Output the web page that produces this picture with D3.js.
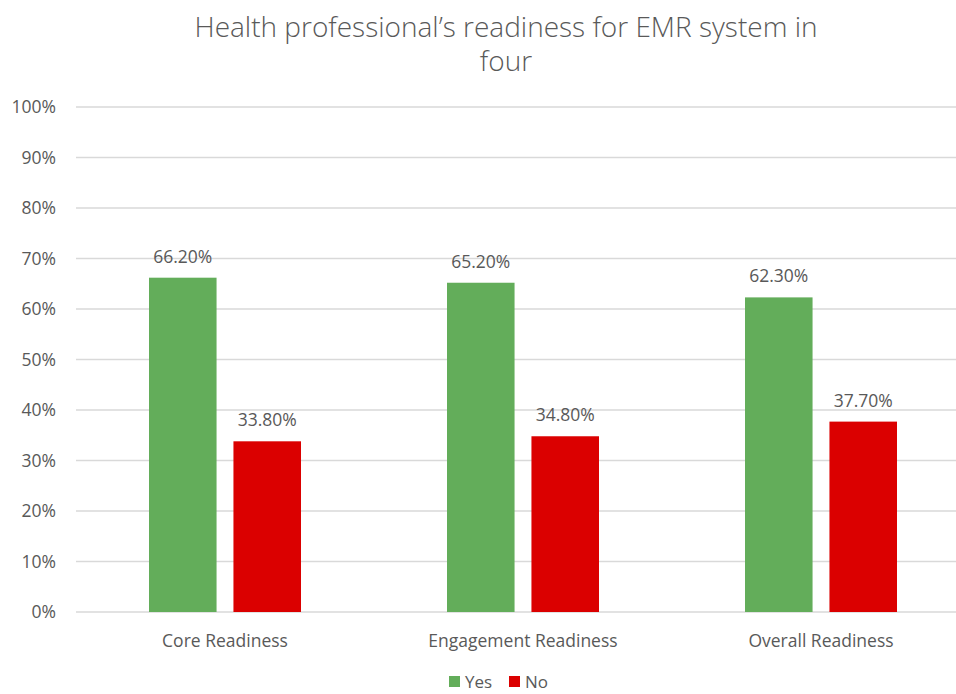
<!DOCTYPE html>
<html>
<head>
<meta charset="utf-8">
<script src="https://cdn.jsdelivr.net/npm/d3@7"></script>
<style>
  body { margin: 0; background: #fff; }
  text { font-family: "Open Sans", "Noto Sans", sans-serif; fill: #595959; }
</style>
</head>
<body>
<script>
var categories = ["Core Readiness", "Engagement Readiness", "Overall Readiness"]
var series = ["Yes", "No"]
var yesValues = [66.2, 65.2, 62.3]
var noValues = [33.8, 34.8, 37.7]
var yTicks = [0, 10, 20, 30, 40, 50, 60, 70, 80, 90, 100]
var colors = ["#63ad5a", "#db0000"]

var width = 956, height = 694

var svg = d3.select("body").append("svg")
    .attr("width", width)
    .attr("height", height)

var x = d3.scaleBand().domain(categories).range([76, 970]).padding(0)
var xs = d3.scaleBand().domain(series).range([73, 225]).paddingInner(0.2)
var y = d3.scaleLinear().domain([0, 100]).range([612, 107])

// gridlines
svg.selectAll("line.grid")
    .data(yTicks)
    .enter()
    .append("line")
    .attr("x1", 76)
    .attr("x2", 970)
    .attr("y1", function(d) {return y(d)})
    .attr("y2", function(d) {return y(d)})
    .style("stroke", "#d9d9d9")
    .style("stroke-width", 1.5)

svg.selectAll("text.ytick")
    .data(yTicks)
    .enter()
    .append("text")
    .attr("x", 56)
    .attr("y", function(d) {return y(d) + 6})
    .attr("text-anchor", "end")
    .style("font-size", "17.5px")
    .text(function(d) {return d + "%"})

var rows = categories.map(function(c, i) {
    return {cat: c, values: [yesValues[i], noValues[i]]}
})

var groups = svg.selectAll("g.cat")
    .data(rows)
    .enter()
    .append("g")
    .attr("transform", function(d) {return "translate(" + x(d.cat) + ",0)"})

var bars = groups.selectAll("g.bar")
    .data(function(d) {return d.values.map(function(v, j) {return {s: series[j], v: v, j: j}})})
    .enter()
    .append("g")

bars.append("rect")
    .attr("x", function(d) {return xs(d.s)})
    .attr("width", xs.bandwidth())
    .attr("y", function(d) {return y(d.v)})
    .attr("height", function(d) {return y(0) - y(d.v)})
    .attr("fill", function(d) {return colors[d.j]})

bars.append("text")
    .attr("x", function(d) {return xs(d.s) + xs.bandwidth() / 2})
    .attr("y", function(d) {return y(d.v) - 15})
    .attr("text-anchor", "middle")
    .style("font-size", "17.5px")
    .text(function(d) {return d.v.toFixed(2) + "%"})

groups.append("text")
    .attr("x", x.bandwidth() / 2)
    .attr("y", 647)
    .attr("text-anchor", "middle")
    .style("font-size", "17.5px")
    .text(function(d) {return d.cat})

// title
var title = svg.append("text")
    .attr("text-anchor", "middle")
    .style("font-size", "28px")
    .style("font-weight", 300)
title.append("tspan").attr("x", 506).attr("y", 37).text("Health professional’s readiness for EMR system in")
title.append("tspan").attr("x", 506).attr("y", 71).text("four")

// legend
var legendX = [449, 509]
var legend = svg.selectAll("g.legend")
    .data(series)
    .enter()
    .append("g")
    .attr("transform", function(d, i) {return "translate(" + legendX[i] + ",676)"})

legend.append("rect")
    .attr("width", 11)
    .attr("height", 11)
    .attr("fill", function(d, i) {return colors[i]})

legend.append("text")
    .attr("x", 16)
    .attr("y", 12)
    .style("font-size", "17px")
    .text(function(d) {return d})
</script>
</body>
</html>
